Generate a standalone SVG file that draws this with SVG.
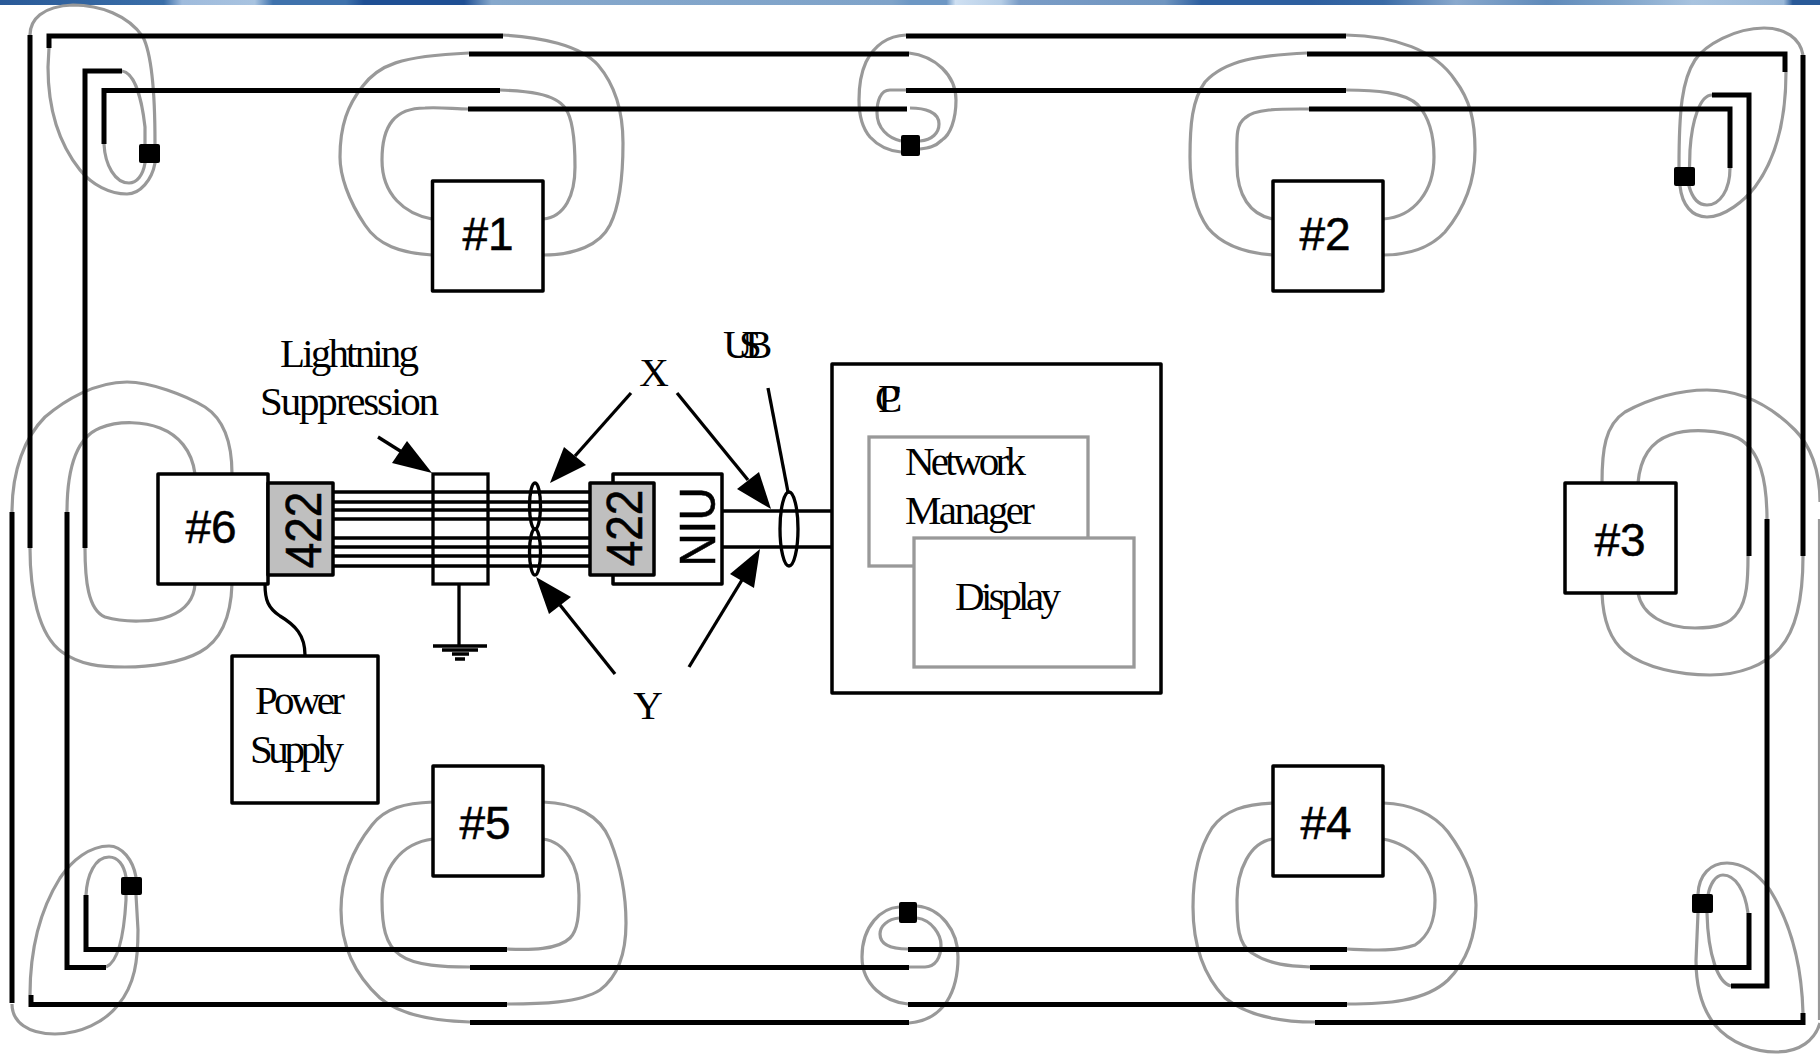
<svg xmlns="http://www.w3.org/2000/svg" width="1820" height="1054" viewBox="0 0 1820 1054">
<defs>
<style>
.b{fill:none;stroke:#000;stroke-width:5}
.g{fill:none;stroke:#999;stroke-width:3.2}
.w{fill:none;stroke:#000;stroke-width:3.3}
.box{fill:#fff;stroke:#000;stroke-width:3.5;stroke-linejoin:round}
.gbox{fill:#bfbfbf;stroke:#000;stroke-width:3.5;stroke-linejoin:round}
.pane{fill:#fff;stroke:#999;stroke-width:3.3}
.sq{fill:#000}
.ar{fill:#000}
.n{font-family:"Liberation Sans",Arial,sans-serif;font-size:46px;fill:#000;stroke:#000;stroke-width:.5;text-anchor:middle}
.s{font-family:"Liberation Serif","Times New Roman",serif;font-size:41px;fill:#000}
</style>
<linearGradient id="strip" x1="0" y1="0" x2="1" y2="0">
<stop offset="0" stop-color="#2a5a98"/><stop offset=".09" stop-color="#3a6ea8"/><stop offset=".1" stop-color="#9fbbdc"/><stop offset=".14" stop-color="#a8c3e0"/><stop offset=".15" stop-color="#3f72ac"/><stop offset=".19" stop-color="#3f72ac"/><stop offset=".2" stop-color="#1f4f94"/><stop offset=".255" stop-color="#1f4f94"/><stop offset=".27" stop-color="#86a8cc"/><stop offset=".49" stop-color="#7fa3c9"/><stop offset=".5" stop-color="#6d97c4"/><stop offset=".52" stop-color="#6d97c4"/><stop offset=".525" stop-color="#cfe0f2"/><stop offset=".55" stop-color="#b5cde6"/><stop offset=".56" stop-color="#7a9cc6"/><stop offset=".64" stop-color="#6f95c0"/><stop offset=".66" stop-color="#2e5f9f"/><stop offset=".72" stop-color="#2e5f9f"/><stop offset=".76" stop-color="#3a6ba6"/><stop offset=".8" stop-color="#8aa9cd"/><stop offset=".85" stop-color="#5f8aba"/><stop offset=".89" stop-color="#7ea3c9"/><stop offset=".93" stop-color="#a8c3df"/><stop offset=".98" stop-color="#9ab8d8"/><stop offset=".985" stop-color="#2a5a98"/><stop offset="1" stop-color="#2a5a98"/>
</linearGradient>
</defs>
<rect x="0" y="0" width="1820" height="5" fill="url(#strip)"/>

<g id="connectors">
<g id="grey-loops">
<!-- top-left -->
<path class="g" d="M30,35 C30,20 42,6 73,5 C100,5 128,15 143,37 C152,55 155,90 155,143 L155,163 C152,180 140,194 127,194 C110,194 92,185 80,170 C60,145 48,110 48,67 L49,48"/>
<path class="g" d="M122,71 C135,73 142,100 145,127 L145,163 C143,175 137,183 129,183 C115,183 105,165 104,144"/>
<!-- node 1 -->
<path class="g" d="M432,255 C400,253 378,245 365,225 C348,200 340,175 340,157 C340,125 348,105 362,87 C378,65 400,56 469,53"/>
<path class="g" d="M432,219 C405,214 382,195 382,160 C382,125 395,108 425,108 C440,107 455,109 468,109"/>
<path class="g" d="M543,255 C575,255 600,245 610,225 C620,205 623,175 623,143 C623,110 615,85 598,65 C580,45 540,37 503,35"/>
<path class="g" d="M543,219 C565,217 575,195 575,167 C575,140 573,118 565,108 C555,93 525,91 500,90"/>
<!-- top-middle -->
<path class="g" d="M906,35 C885,36 873,48 866,62 C860,75 859,88 859,100 C859,118 864,130 870,137 C880,148 890,151 901,152"/>
<path class="g" d="M909,53 C935,56 956,75 956,100 C956,120 950,135 942,140 C935,147 928,148 920,149"/>
<path class="g" d="M906,90 L890,90 C880,90 877,102 877,113 C877,128 888,138 901,141"/>
<path class="g" d="M910,108 C925,108 939,112 939,124 C939,133 932,140 920,141"/>
<!-- node 2 -->
<path class="g" d="M1273,255 C1245,253 1222,245 1208,228 C1195,210 1190,185 1190,157 C1190,125 1192,100 1205,82 C1225,60 1260,55 1307,53"/>
<path class="g" d="M1273,219 C1250,215 1237,195 1237,165 C1237,140 1235,125 1245,118 C1255,108 1285,109 1309,109"/>
<path class="g" d="M1383,255 C1410,255 1430,248 1445,232 C1465,208 1475,180 1475,150 C1475,120 1470,100 1455,80 C1435,50 1395,36 1346,35"/>
<path class="g" d="M1383,219 C1415,217 1434,190 1434,157 C1434,130 1427,115 1418,105 C1405,92 1375,90 1346,90"/>
<!-- top-right -->
<path class="g" d="M1803,55 C1800,38 1785,28 1764,28 C1735,28 1705,45 1695,60 C1682,80 1679,110 1679,167 L1680,186 C1682,205 1692,217 1707,217 C1725,217 1745,200 1755,187 C1775,160 1786,120 1786,72"/>
<path class="g" d="M1712,95 C1700,95 1692,120 1690,150 L1689,186 C1692,197 1698,205 1707,205 C1720,205 1730,190 1730,168"/>
<!-- node 3 -->
<path class="g" d="M1602,483 C1602,450 1605,425 1625,412 C1650,398 1680,390 1707,390 C1745,390 1775,410 1795,430 C1810,445 1820,470 1820,502"/>
<path class="g" d="M1638,483 C1640,460 1650,442 1670,435 C1690,428 1720,430 1738,438 C1760,450 1767,480 1767,520"/>
<path class="g" d="M1602,593 C1603,620 1610,640 1625,652 C1645,668 1680,675 1710,675 C1740,675 1765,665 1780,648 C1798,628 1803,590 1803,556"/>
<path class="g" d="M1638,593 C1642,615 1665,628 1695,628 C1715,628 1730,625 1738,612 C1747,600 1748,580 1748,556"/>
<!-- node 6 -->
<path class="g" d="M232,474 C232,445 225,420 205,407 C185,395 150,382 127,382 C95,382 65,400 45,417 C25,437 12,470 12,512"/>
<path class="g" d="M195,474 C192,450 178,435 160,428 C145,422 120,420 100,428 C75,438 67,470 67,512"/>
<path class="g" d="M232,584 C231,615 222,640 200,652 C180,663 150,667 125,667 C100,667 80,665 62,652 C38,635 30,590 30,548"/>
<path class="g" d="M195,584 C194,600 185,610 170,616 C155,622 125,623 105,617 C88,610 85,580 85,548"/>
<!-- node 5 -->
<path class="g" d="M433,802 C405,803 385,808 372,825 C352,850 341,880 341,910 C341,945 355,975 380,998 C400,1015 435,1021 470,1022"/>
<path class="g" d="M433,839 C400,843 382,870 382,900 C382,925 385,945 400,955 C415,966 445,967 470,967"/>
<path class="g" d="M543,802 C575,803 600,815 610,840 C620,865 626,890 626,923 C626,950 620,975 600,990 C580,1003 540,1004 507,1004"/>
<path class="g" d="M543,839 C565,842 579,865 579,895 C579,915 578,930 570,938 C558,950 530,950 507,949"/>
<!-- bottom-left -->
<path class="g" d="M12,1004 C12,1022 28,1034 55,1034 C80,1034 105,1022 118,1005 C135,985 138,960 138,930 L136,895 M136,877 C133,860 122,846 109,846 C90,846 72,860 60,878 C40,910 30,950 30,995"/>
<path class="g" d="M106,967 C118,962 124,935 126,900 L126,877 C124,865 118,857 109,857 C95,857 87,875 86,895"/>
<!-- bottom-middle -->
<path class="g" d="M899,907 C882,908 862,925 862,957 C862,985 885,1002 908,1004"/>
<path class="g" d="M917,906 C940,908 958,930 958,957 C958,990 945,1020 909,1023"/>
<path class="g" d="M899,918 C888,919 880,926 880,934 C880,945 892,949 908,949"/>
<path class="g" d="M917,918 C932,920 941,935 941,945 C941,958 935,967 925,967 L909,967"/>
<!-- node 4 -->
<path class="g" d="M1273,803 C1245,804 1225,810 1212,828 C1198,850 1193,880 1193,907 C1193,945 1203,975 1225,998 C1250,1018 1285,1022 1315,1022"/>
<path class="g" d="M1273,839 C1250,842 1237,870 1237,900 C1237,925 1238,945 1252,953 C1270,965 1290,966 1310,967"/>
<path class="g" d="M1383,803 C1410,804 1432,812 1448,832 C1465,855 1476,880 1476,905 C1476,935 1468,960 1448,980 C1425,1002 1385,1004 1347,1004"/>
<path class="g" d="M1383,839 C1415,845 1435,870 1435,900 C1435,920 1430,935 1415,945 C1395,952 1370,950 1347,949"/>
<!-- bottom-right -->
<path class="g" d="M1803,1013 C1802,975 1795,930 1770,890 C1755,870 1740,863 1727,863 C1710,863 1699,875 1698,894 L1698,913 L1696,960 C1696,990 1703,1010 1715,1025 C1730,1043 1755,1052 1776,1052 C1800,1052 1815,1040 1820,1023"/>
<path class="g" d="M1731,986 C1718,983 1708,955 1707,913 L1708,895 C1710,885 1715,875 1723,875 C1735,875 1745,890 1748,913"/>
</g>
<g id="black-cables">
<path class="b" d="M30,35 V548"/>
<path class="b" d="M49,48 V36 H503"/>
<path class="b" d="M122,71 H85 V548"/>
<path class="b" d="M104,144 V90.5 H500"/>
<path class="b" d="M469,54 H909"/>
<path class="b" d="M468,109 H907"/>
<path class="b" d="M906,36 H1346"/>
<path class="b" d="M906,90.5 H1346"/>
<path class="b" d="M1307,54 H1785 V72"/>
<path class="b" d="M1309,109 H1730 V168"/>
<path class="b" d="M1712,95 H1749 V556"/>
<path class="b" d="M1803,55 V556"/>
<path class="b" d="M12,512 V1003"/>
<path class="b" d="M67,512 V967.5 H106"/>
<path class="b" d="M86,895 V949.5 H507"/>
<path class="b" d="M31,995 V1004.5 H507"/>
<path class="b" d="M470,967.5 H909"/>
<path class="b" d="M470,1022.5 H909"/>
<path class="b" d="M908,949.5 H1347"/>
<path class="b" d="M908,1004.5 H1347"/>
<path class="b" d="M1310,967.5 H1749 V913"/>
<path class="b" d="M1315,1022.5 H1803 V1013"/>
<path class="b" d="M1731,986 H1767 V519"/>
<path class="g" d="M1819.5,519 V1020"/>
</g>
<g id="wires">
<path class="w" d="M333,492 H590 M333,502 H590 M333,510 H590 M333,519 H590 M333,538 H590 M333,547 H590 M333,556 H590 M333,566 H590"/>
<path class="w" d="M722,511 H832 M722,547 H832"/>
<path class="w" d="M265,584 C265,600 268,608 280,616 C295,625 305,635 305,655"/>
<path class="w" d="M459,584 V646 M433,646 H487 M442,650 H478 M452,654 H469 M455,659 H465"/>
<path class="w" d="M768,388 L788,492"/>
<ellipse class="w" cx="535" cy="506" rx="5.5" ry="23"/>
<ellipse class="w" cx="535" cy="552" rx="5.5" ry="23"/>
<ellipse class="w" cx="789" cy="529" rx="9" ry="37"/>
</g>
<g id="arrows">
<path class="w" d="M378,437 L405,454"/><polygon class="ar" points="432,473 407,441 392,463"/>
<path class="w" d="M631,393 L575,456"/><polygon class="ar" points="550,483 564,447 586,465"/>
<path class="w" d="M677,393 L748,480"/><polygon class="ar" points="771,509 759,472 737,489"/>
<path class="w" d="M615,674 L560,605"/><polygon class="ar" points="536,577 571,597 549,614"/>
<path class="w" d="M689,667 L742,580"/><polygon class="ar" points="760,549 730,574 754,588"/>
</g>
</g>

<g id="splices">
<rect class="sq" x="139" y="144" width="21" height="19" rx="2"/>
<rect class="sq" x="901" y="135" width="19" height="21" rx="2"/>
<rect class="sq" x="1674" y="167" width="21" height="19" rx="2"/>
<rect class="sq" x="121" y="877" width="21" height="18" rx="2"/>
<rect class="sq" x="899" y="902" width="18" height="21" rx="2"/>
<rect class="sq" x="1692" y="894" width="21" height="19" rx="2"/>
</g>

<g id="node1"><rect class="box" x="432.5" y="181" width="110.5" height="110"/><text class="n" x="488" y="250">#1</text></g>
<g id="node2"><rect class="box" x="1273" y="181" width="110" height="110"/><text class="n" x="1325" y="250">#2</text></g>
<g id="node3"><rect class="box" x="1565" y="483" width="111" height="110"/><text class="n" x="1620" y="556">#3</text></g>
<g id="node4"><rect class="box" x="1273" y="766" width="110" height="110"/><text class="n" x="1326" y="839">#4</text></g>
<g id="node5"><rect class="box" x="433" y="766" width="110" height="110"/><text class="n" x="485" y="839">#5</text></g>
<g id="node6"><rect class="box" x="158" y="474" width="110" height="110"/><text class="n" x="211" y="543">#6</text></g>
<g id="iface-left"><rect class="gbox" x="268" y="483" width="65" height="92"/><text class="n" transform="translate(321,530) rotate(-90) scale(1,1.08)">422</text></g>
<g id="suppressor"><rect class="w" x="433" y="474" width="55" height="110"/></g>
<g id="niu"><rect class="box" x="613" y="474" width="109" height="110"/><text class="n" transform="translate(715,527) rotate(-90) scale(1,1.1)">NIU</text></g>
<g id="iface-right"><rect class="gbox" x="590" y="483" width="64" height="92"/><text class="n" transform="translate(642,528) rotate(-90) scale(1,1.08)">422</text></g>
<g id="power"><rect class="box" x="232" y="656" width="146" height="147"/>
<text class="s" x="255" y="714" textLength="90">Power</text><text class="s" x="250" y="763" textLength="94">Supply</text></g>
<g id="pc"><rect class="box" x="832" y="364" width="329" height="329"/>
<text class="s" x="878 875" y="412">PC</text>
<g id="network-manager"><rect class="pane" x="869" y="437" width="219" height="129"/>
<text class="s" x="905" y="475" textLength="121">Network</text><text class="s" x="905" y="524" textLength="130">Manager</text></g>
<g id="display"><rect class="pane" x="914" y="538" width="220" height="129"/>
<text class="s" x="955" y="610" textLength="106">Display</text></g>
</g>
<g id="labels">
<text class="s" x="280" y="367" textLength="139">Lightning</text>
<text class="s" x="260" y="415" textLength="179">Suppression</text>
<text class="s" x="723 739 745" y="358">USB</text>
<text class="s" x="654" y="386" text-anchor="middle">X</text>
<text class="s" x="648" y="719" text-anchor="middle">Y</text>
</g>
</svg>
